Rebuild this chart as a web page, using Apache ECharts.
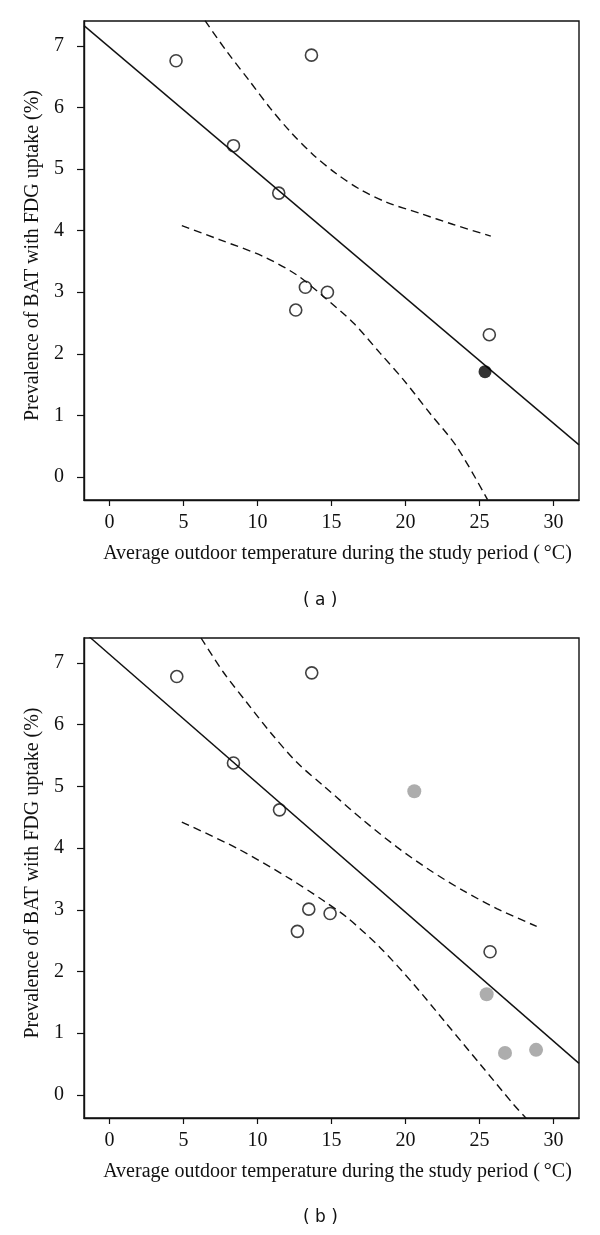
<!DOCTYPE html>
<html>
<head>
<meta charset="utf-8">
<script src="https://cdn.jsdelivr.net/npm/echarts@6/dist/echarts.min.js"></script>
<style>
html,body{margin:0;padding:0;background:#fff;}
#chart{width:600px;height:1235px;}
</style>
</head>
<body>
<div id="chart"></div>
<script>
// ---- data ----
const xTicks = [0, 5, 10, 15, 20, 25, 30];
const yTicks = [0, 1, 2, 3, 4, 5, 6, 7];
const xTitle = 'Average outdoor temperature during the study period (\u2009\u00B0C)';
const yTitle = 'Prevalence of BAT with FDG uptake (%)';

// panel (a)
const openA = [[4.50,6.76],[13.65,6.85],[8.38,5.38],[11.44,4.61],[13.24,3.08],[14.73,3.00],[12.59,2.71],[25.67,2.31]];
const filledA = [[25.38,1.71]];
const fitA = [[-1.72,7.33],[31.73,0.52]];
const upperA = [[6.46,7.41],[7.93,6.91],[9.50,6.42],[10.86,5.99],[12.21,5.61],[13.78,5.23],[15.36,4.92],[16.94,4.67],[18.74,4.46],[20.99,4.28],[23.24,4.10],[25.77,3.91]];
const lowerA = [[4.89,4.08],[7.48,3.85],[10.40,3.58],[12.66,3.28],[14.46,2.93],[16.49,2.50],[18.29,2.01],[19.86,1.58],[21.67,1.03],[23.47,0.49],[25.55,-0.37]];

// panel (b)
const openB = [[4.55,6.78],[13.67,6.84],[8.38,5.38],[11.49,4.62],[13.47,3.01],[14.91,2.94],[12.70,2.65],[25.72,2.32]];
const grayB = [[20.60,4.92],[25.49,1.63],[26.73,0.68],[28.83,0.73]];
const fitB = [[-1.72,7.50],[31.73,0.51]];
const upperB = [[6.19,7.405],[7.70,6.85],[9.28,6.36],[10.86,5.88],[12.66,5.39],[14.46,5.01],[17.16,4.45],[19.41,4.02],[21.66,3.64],[23.91,3.31],[26.17,3.02],[28.87,2.73]];
const lowerB = [[4.89,4.42],[8.60,4.00],[12.21,3.50],[14.45,3.15],[16.03,2.88],[18.28,2.39],[20.53,1.80],[22.79,1.15],[25.04,0.50],[27.29,-0.15],[28.20,-0.39]];

const panelLabels = ['( a )', '( b )'];

// ---- chart ----
const serif = 'Liberation Serif';
const ink = '#111';

function xAxisFor(i) {
  return {
    type: 'value', gridIndex: i, min: -1.72, max: 31.73,
    splitLine: {show: false},
    axisLine: {show: true, onZero: false, lineStyle: {color: ink, width: 1.4}},
    axisTick: {show: true, length: 6, lineStyle: {color: ink, width: 1.2}, customValues: xTicks},
    axisLabel: {show: true, margin: 13, fontFamily: serif, fontSize: 20, color: ink, customValues: xTicks},
    name: xTitle, nameLocation: 'middle', nameGap: 44,
    nameTextStyle: {fontFamily: serif, fontSize: 20, color: ink, padding: [0, 0, 0, 12]}
  };
}
function yAxisFor(i) {
  return {
    type: 'value', gridIndex: i, min: -0.375, max: 7.405,
    splitLine: {show: false},
    axisLine: {show: true, onZero: false, lineStyle: {color: ink, width: 1.4}},
    axisTick: {show: true, length: 7, lineStyle: {color: ink, width: 1.2}, customValues: yTicks},
    axisLabel: {show: true, margin: 20, fontFamily: serif, fontSize: 20, color: ink, customValues: yTicks},
    name: yTitle, nameLocation: 'middle', nameGap: 41,
    nameTextStyle: {fontFamily: serif, fontSize: 20, color: ink, padding: [0, 0, 0, 10]}
  };
}
function lineSeries(data, i, dashed) {
  return {
    type: 'line', xAxisIndex: i, yAxisIndex: i, data: data,
    symbol: 'none', smooth: dashed ? 0.3 : false, clip: true, silent: true,
    lineStyle: {color: ink, width: 1.4, type: dashed ? [8, 5] : 'solid'},
    z: 2
  };
}
function openSeries(data, i) {
  return {
    type: 'scatter', xAxisIndex: i, yAxisIndex: i, data: data,
    symbol: 'circle', symbolSize: 12,
    itemStyle: {color: 'rgba(255,255,255,0)', borderColor: ink, borderWidth: 1.6},
    z: 3
  };
}
function filledSeries(data, i, color, size) {
  return {
    type: 'scatter', xAxisIndex: i, yAxisIndex: i, data: data,
    symbol: 'circle', symbolSize: size,
    itemStyle: {color: color, borderWidth: 0},
    z: 4
  };
}

const chart = echarts.init(document.getElementById('chart'), null, {renderer: 'canvas'});
chart.setOption({
  animation: false,
  backgroundColor: '#fff',
  grid: [
    {left: 84, top: 21, width: 495, height: 479, show: true, borderColor: ink, borderWidth: 1.4, backgroundColor: 'transparent'},
    {left: 84, top: 638, width: 495, height: 480, show: true, borderColor: ink, borderWidth: 1.4, backgroundColor: 'transparent'}
  ],
  xAxis: [xAxisFor(0), xAxisFor(1)],
  yAxis: [yAxisFor(0), yAxisFor(1)],
  graphic: [
    {type: 'text', left: 323 - 20, top: 592, style: {text: panelLabels[0], font: '17px "DejaVu Sans"', fill: ink}},
    {type: 'text', left: 323 - 20, top: 1209, style: {text: panelLabels[1], font: '17px "DejaVu Sans"', fill: ink}}
  ],
  series: [
    lineSeries(fitA, 0, false),
    lineSeries(upperA, 0, true),
    lineSeries(lowerA, 0, true),
    openSeries(openA, 0),
    filledSeries(filledA, 0, '#000', 13),
    lineSeries(fitB, 1, false),
    lineSeries(upperB, 1, true),
    lineSeries(lowerB, 1, true),
    openSeries(openB, 1),
    filledSeries(grayB, 1, '#999999', 14)
  ]
});
</script>
</body>
</html>
